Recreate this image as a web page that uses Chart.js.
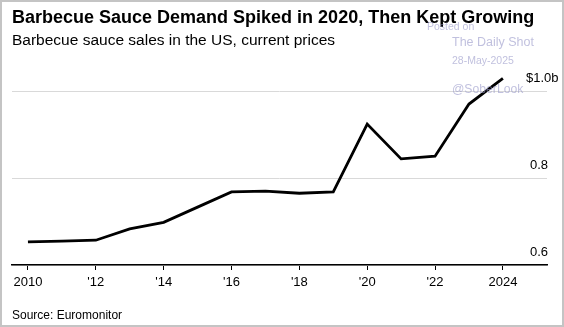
<!DOCTYPE html>
<html>
<head>
<meta charset="utf-8">
<script src="https://cdn.jsdelivr.net/npm/chart.js@4"></script>
<style>
  html, body { margin: 0; padding: 0; background: #fff; }
  #wrap { position: relative; width: 564px; height: 327px; overflow: hidden; font-family: "Liberation Sans", Arial, sans-serif; }
  #chart { position: absolute; left: 0; top: 0; }
  .txt { position: absolute; white-space: nowrap; }
  #title { left: 12px; top: 7.8px; font-size: 18px; line-height: 18px; font-weight: bold; color: #000; }
  #subtitle { left: 12px; top: 32.4px; font-size: 15.5px; line-height: 15.5px; color: #000; }
  #source { left: 12px; top: 308.5px; font-size: 12px; line-height: 12px; color: #000; }
  .wm { color: rgba(150, 150, 200, 0.6); }
  #frame { position: absolute; left: 0; top: 0; width: 560px; height: 323px; border: 2px solid #c4c4c4; pointer-events: none; }
</style>
</head>
<body>
<div id="wrap">
  <canvas id="chart" width="564" height="327"></canvas>
  <div id="title" class="txt">Barbecue Sauce Demand Spiked in 2020, Then Kept Growing</div>
  <div id="subtitle" class="txt">Barbecue sauce sales in the US, current prices</div>
  <div id="source" class="txt">Source: Euromonitor</div>
  <div class="txt wm" style="left:427px; top:21px; font-size:10.5px; line-height:10.5px;">Posted on</div>
  <div class="txt wm" style="left:452px; top:36px; font-size:12.5px; line-height:12.5px;">The Daily Shot</div>
  <div class="txt wm" style="left:452px; top:55px; font-size:10.5px; line-height:10.5px;">28-May-2025</div>
  <div class="txt wm" style="left:452px; top:83px; font-size:12.2px; line-height:12.2px;">@SoberLook</div>
  <div id="frame"></div>
</div>
<script>
// sales, billions of US dollars
const years = [2010, 2011, 2012, 2013, 2014, 2015, 2016, 2017, 2018, 2019, 2020, 2021, 2022, 2023, 2024];
const sales = [0.653, 0.655, 0.657, 0.683, 0.698, 0.733, 0.768, 0.770, 0.765, 0.768, 0.924, 0.844, 0.850, 0.970, 1.029];

const xTicks = [2010, 2012, 2014, 2016, 2018, 2020, 2022, 2024];
const xTickLabels = ['2010', "'12", "'14", "'16", "'18", "'20", "'22", '2024'];
const yTicks = [0.6, 0.8, 1.0];
const yTickLabels = ['0.6', '0.8', '$1.0b'];

const fontFamily = '"Liberation Sans", Arial, sans-serif';

// y labels sit above their gridlines, left-aligned near the right edge
const yLabelPlugin = {
    id: 'yLabels',
    afterDraw(chart) {
        const c = chart.ctx;
        const yScale = chart.scales.y;
        c.save();
        c.font = '13px ' + fontFamily;
        c.fillStyle = '#000';
        c.textAlign = 'left';
        c.textBaseline = 'middle';
        yTicks.forEach((v, i) => {
            const x = i === yTicks.length - 1 ? 526 : 530;
            c.fillText(yTickLabels[i], x, yScale.getPixelForValue(v) - 12.8);
        });
        c.restore();
    }
};

const ctx = document.getElementById('chart').getContext('2d');
new Chart(ctx, {
    type: 'line',
    data: {
        datasets: [{
            data: years.map((y, i) => ({ x: y, y: sales[i] })),
            borderColor: '#000',
            borderWidth: 2.8,
            pointRadius: 0,
            tension: 0,
            fill: false
        }]
    },
    options: {
        responsive: false,
        animation: false,
        layout: { padding: { left: 12, top: 69.25, right: 0, bottom: 0 } },
        plugins: { legend: { display: false }, tooltip: { enabled: false } },
        scales: {
            x: {
                type: 'linear',
                min: 2009.53,
                max: 2025.3,
                afterBuildTicks: scale => { scale.ticks = xTicks.map(v => ({ value: v })); },
                afterFit: scale => { scale.height = 62; },
                grid: { drawOnChartArea: false, tickLength: 5, color: '#000', tickWidth: 1 },
                border: { color: '#000', width: 1.5 },
                ticks: {
                    font: { family: fontFamily, size: 13 },
                    color: '#000',
                    padding: 5,
                    maxRotation: 0,
                    autoSkip: false,
                    callback: v => xTickLabels[xTicks.indexOf(v)]
                }
            },
            y: {
                position: 'right',
                min: 0.6,
                max: 1.05,
                afterBuildTicks: scale => { scale.ticks = yTicks.map(v => ({ value: v })); },
                afterFit: scale => { scale.width = 17; },
                grid: { color: '#d9d9d9', lineWidth: 1, drawTicks: false },
                border: { display: false },
                ticks: { display: false }
            }
        }
    },
    plugins: [yLabelPlugin]
});
</script>
</body>
</html>
